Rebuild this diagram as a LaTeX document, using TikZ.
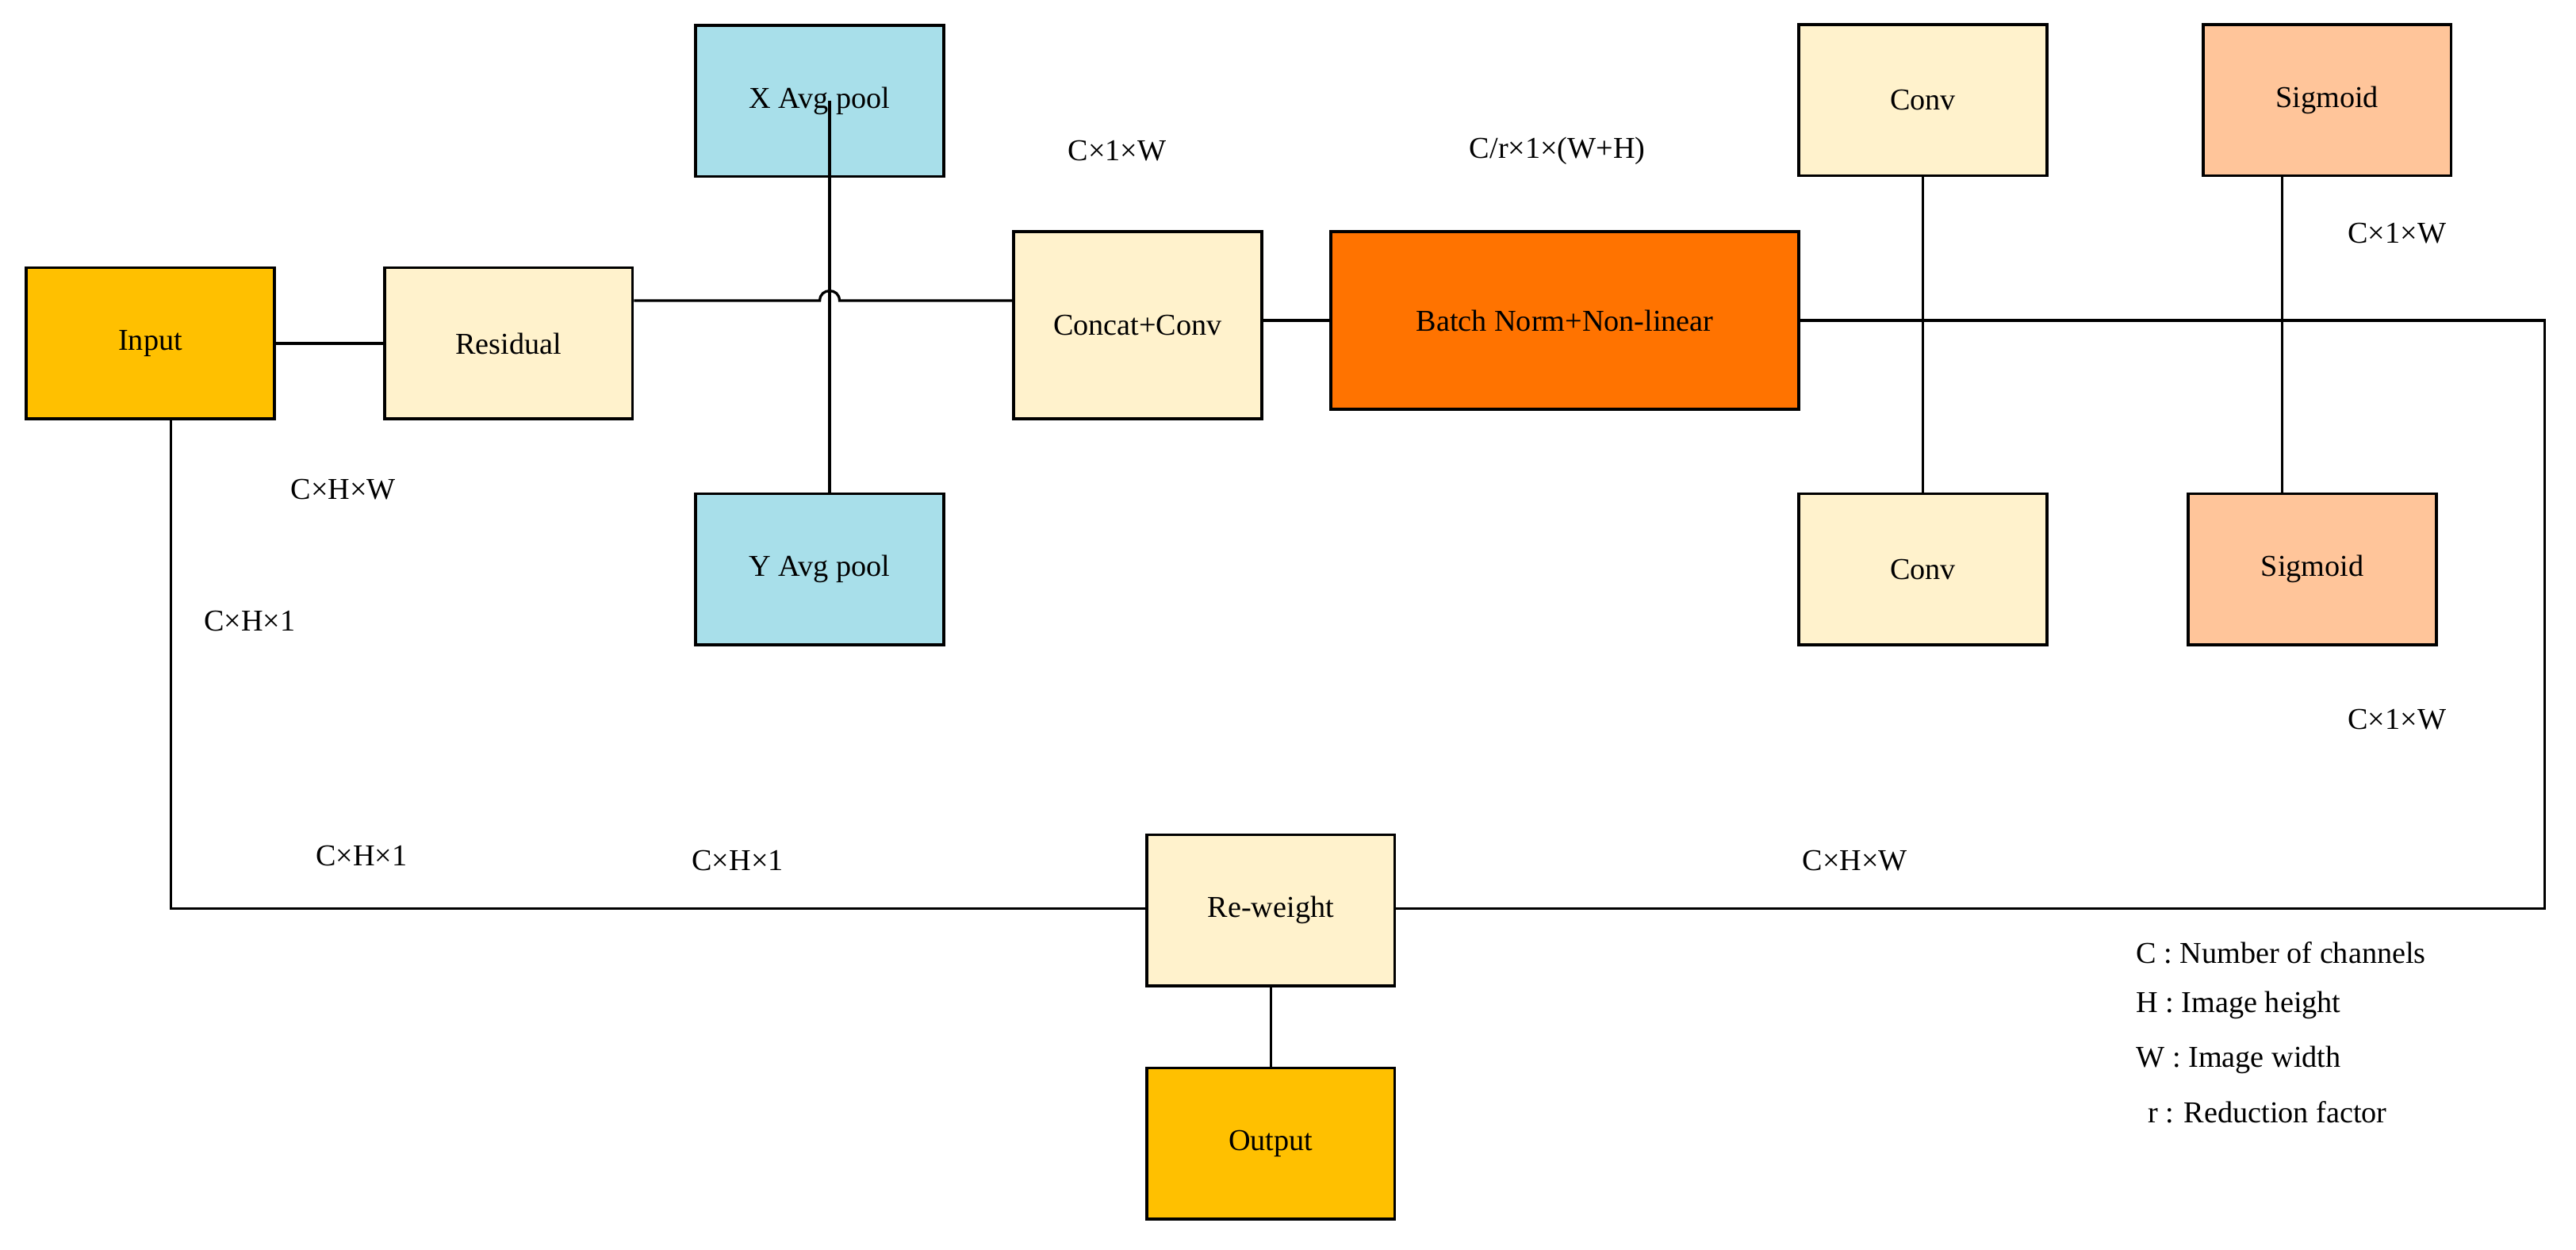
\documentclass[tikz,border=0pt]{standalone}
\usepackage{fontspec}
\setmainfont{Liberation Serif}
\usetikzlibrary{positioning}
\definecolor{inyellow}{HTML}{FFC000}
\definecolor{cream}{HTML}{FFF2CC}
\definecolor{poolblue}{HTML}{A8DFEA}
\definecolor{bnorange}{HTML}{FF7300}
\definecolor{sigpeach}{HTML}{FFC59A}
\tikzstyle{block} = [
    rectangle,
    minimum width=3.02cm,
    minimum height=1.84cm,
    inner sep=0pt,
    text centered,
    draw=black,
    line width=1pt,
    font=\fontsize{10.5}{12}\selectfont
]
\tikzstyle{line} = [
    line width=0.9pt
]
\tikzstyle{dim} = [
    font=\fontsize{10.5}{12}\selectfont,
    inner sep=0pt
]

\begin{document}
\begin{tikzpicture}[x=0.02cm, y=-0.02cm]

\useasboundingbox (0,0) rectangle (1568,760.4);

\node (input)    [block, fill=inyellow] at (91.5,209) {Input};
\node (residual) [block, fill=cream] at (309.5,209) {Residual};
\node (xpool)    [block, fill=poolblue] at (499,61.5) {X Avg pool};
\node (ypool)    [block, fill=poolblue] at (499,346.5) {Y Avg pool};
\node (concat)   [block, fill=cream, minimum height=2.28cm] at (692.5,198) {Concat+Conv};
\node (bn)       [block, fill=bnorange, minimum width=5.7cm, minimum height=2.16cm] at (952.5,195) {Batch Norm+Non-linear};
\node (convt)    [block, fill=cream] at (1170.5,61) {Conv};
\node (convb)    [block, fill=cream] at (1170.5,346.5) {Conv};
\node (sigt)     [block, fill=sigpeach] at (1416.5,61) {Sigmoid};
\node (sigb)     [block, fill=sigpeach] at (1407.5,346.5) {Sigmoid};
\node (reweight) [block, fill=cream] at (773.5,554) {Re-weight};
\node (output)   [block, fill=inyellow] at (773.5,696) {Output};

\coordinate (hopa) at (499,183);
\coordinate (hopb) at (511,183);
\coordinate (rtop) at (1549,195);
\coordinate (rbot) at (1549,553);
\coordinate (lbot) at (104,553);

\draw[line] (input) -- (residual);
\draw[line] (residual.east |- hopa) -- (hopa) .. controls (499,175) and (511,175) .. (hopb) -- (concat.west |- hopb);
\draw[line] (xpool.center) ++(6,0) -- (ypool.north -| 505,0);
\draw[line] (concat.east |- bn.west) -- (bn.west);
\draw[line] (bn.east) -- (rtop) -- (rbot) -- (reweight.east |- rbot);
\draw[line] (convt) -- (convb);
\draw[line] (sigt.south -| 1389,0) -- (sigb.north -| 1389,0);
\draw[line] (input.south -| lbot) -- (lbot) -- (reweight.west |- lbot);
\draw[line] (reweight) -- (output);

\node (d1) [dim] at (680,92) {C×1×W};
\node (d2) [dim] at (948,92) {C/r×1×(W+H)};
\node (d3) [dim] at (209,298) {C×H×W};
\node (d4) [dim] at (152,378) {C×H×1};
\node (d5) [dim] at (1459,142) {C×1×W};
\node (d6) [dim] at (1459,438) {C×1×W};
\node (d7) [dim] at (220,521) {C×H×1};
\node (d8) [dim] at (449,524) {C×H×1};
\node (d9) [dim] at (1129,524) {C×H×W};

\node (lc) [dim, anchor=west] at (1300,580) {C : Number of channels};
\node (lh) [dim, anchor=west] at (1300,612) {H : Image height};
\node (lw) [dim, anchor=west] at (1300,645) {W : Image width};
\node (lr) [dim, anchor=west] at (1307,677) {r : Reduction factor};

\end{tikzpicture}
\end{document}
